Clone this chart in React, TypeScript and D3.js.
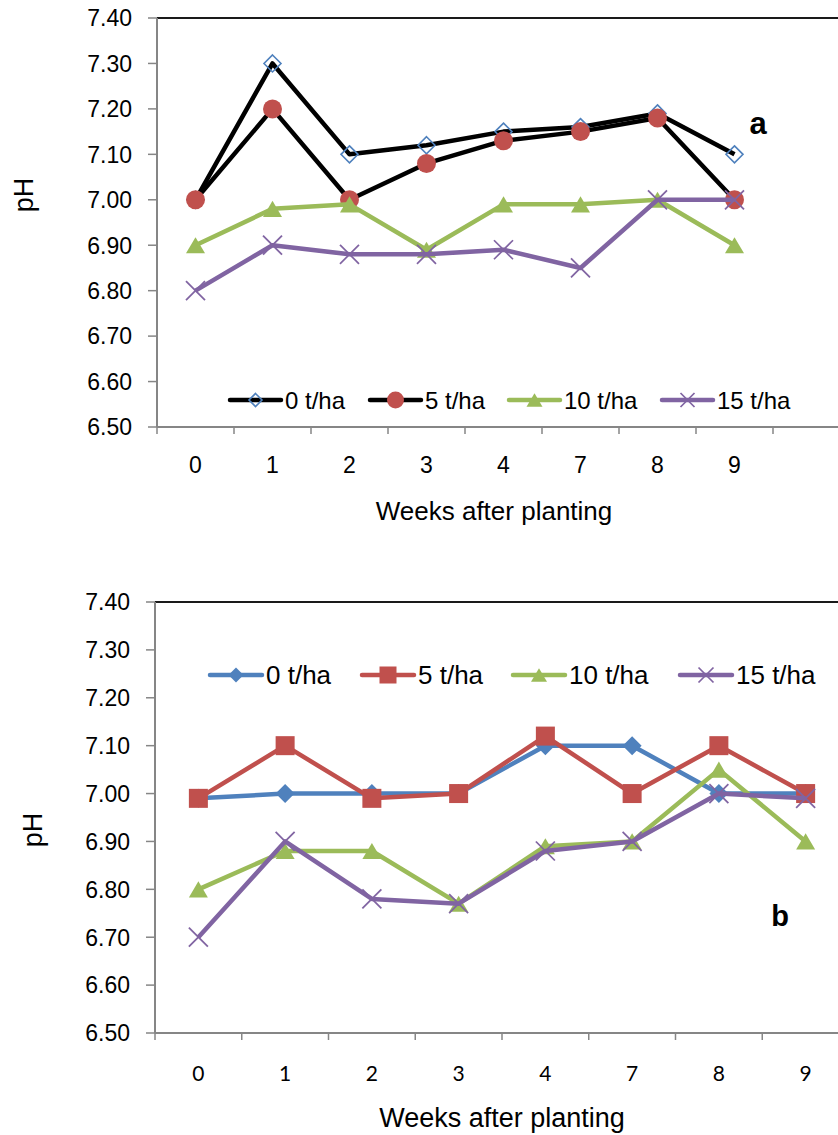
import React from 'react';
import * as d3 from 'd3';

// --- data ---
const weeks = ['0', '1', '2', '3', '4', '7', '8', '9'];
const seriesNames = ['0 t/ha', '5 t/ha', '10 t/ha', '15 t/ha'];
const yTicks = [6.5, 6.6, 6.7, 6.8, 6.9, 7.0, 7.1, 7.2, 7.3, 7.4];

// panel a
const phA0 = [7.0, 7.3, 7.1, 7.12, 7.15, 7.16, 7.19, 7.1];
const phA5 = [7.0, 7.2, 7.0, 7.08, 7.13, 7.15, 7.18, 7.0];
const phA10 = [6.9, 6.98, 6.99, 6.89, 6.99, 6.99, 7.0, 6.9];
const phA15 = [6.8, 6.9, 6.88, 6.88, 6.89, 6.85, 7.0, 7.0];

// panel b
const phB0 = [6.99, 7.0, 7.0, 7.0, 7.1, 7.1, 7.0, 7.0];
const phB5 = [6.99, 7.1, 6.99, 7.0, 7.12, 7.0, 7.1, 7.0];
const phB10 = [6.8, 6.88, 6.88, 6.77, 6.89, 6.9, 7.05, 6.9];
const phB15 = [6.7, 6.9, 6.78, 6.77, 6.88, 6.9, 7.0, 6.99];

const BLUE = '#4F81BD';
const RED = '#C0504D';
const GREEN = '#9BBB59';
const PURPLE = '#8064A2';
const AXIS = '#868686';
const ARIAL = '"Liberation Sans", Arial, sans-serif';
const CALIBRI = 'Lato, "Open Sans", sans-serif';

type Kind = 'hollowDiamond' | 'diamond' | 'circle' | 'square' | 'triangle' | 'cross';

// one marker, s = overall width
function Marker({ kind, x, y, s, color }: { kind: Kind; x: number; y: number; s: number; color: string }) {
  const r = s / 2;
  if (kind === 'circle') return <circle cx={x} cy={y} r={r} fill={color} />;
  if (kind === 'square') return <rect x={x - r} y={y - r} width={s} height={s} fill={color} />;
  if (kind === 'diamond' || kind === 'hollowDiamond') {
    const d = `M${x},${y - r}L${x + r},${y}L${x},${y + r}L${x - r},${y}Z`;
    return kind === 'diamond'
      ? <path d={d} fill={color} />
      : <path d={d} fill="none" stroke={color} strokeWidth={1.6} />;
  }
  if (kind === 'triangle') {
    const h = s * 0.85;
    return <path d={`M${x},${y - h / 2}L${x + r},${y + h / 2}L${x - r},${y + h / 2}Z`} fill={color} />;
  }
  return (
    <g stroke={color} strokeWidth={1.7}>
      <line x1={x - r} y1={y - r} x2={x + r} y2={y + r} />
      <line x1={x - r} y1={y + r} x2={x + r} y2={y - r} />
    </g>
  );
}

type SeriesStyle = { line: string; marker: Kind; color: string };

type PanelProps = {
  values: number[][];
  styles: SeriesStyle[];
  x0: number; x1: number; axisEnd: number;
  yTop: number; yBottom: number;
  tickLabelRight: number;
  xLabelFont: string; xLabelSize: number; xLabelGap: number;
  titleX: number; titleY: number; titleSize: number;
  phX: number; phY: number;
  legendY: number; legendStarts: number[]; legendLine: number; legendSize: number; legendMarker: number[];
  tag: string; tagX: number; tagY: number; tagSize: number;
};

function Panel(p: PanelProps) {
  const x = d3.scaleBand<string>().domain(weeks).range([p.x0, p.x1]);
  const y = d3.scaleLinear().domain([6.5, 7.4]).range([p.yBottom, p.yTop]);
  const cx = (w: string) => (x(w) as number) + x.bandwidth() / 2;
  const line = d3.line<number>().x((_, i) => cx(weeks[i])).y(v => y(v));
  const bounds = weeks.map(w => x(w) as number).concat([p.x1]);

  return (
    <g>
      {/* top border */}
      <line x1={p.x0} x2={p.axisEnd} y1={y(7.4)} y2={y(7.4)} stroke="#1a1a1a" strokeWidth={2} />
      {/* y axis */}
      <line x1={p.x0} x2={p.x0} y1={y(7.4)} y2={y(6.5)} stroke={AXIS} strokeWidth={2} />
      {yTicks.map(t => (
        <g key={t}>
          <line x1={p.x0 - 9} x2={p.x0} y1={y(t)} y2={y(t)} stroke={AXIS} strokeWidth={1.5} />
          <text x={p.tickLabelRight} y={y(t)} dy="0.36em" textAnchor="end" fontFamily={ARIAL} fontSize={23} fill="#000">
            {t.toFixed(2)}
          </text>
        </g>
      ))}
      {/* x axis */}
      <line x1={p.x0} x2={p.axisEnd} y1={y(6.5)} y2={y(6.5)} stroke={AXIS} strokeWidth={2} />
      {bounds.map((b, i) => (
        <line key={i} x1={b} x2={b} y1={y(6.5)} y2={y(6.5) + 7} stroke={AXIS} strokeWidth={1.5} />
      ))}
      {weeks.map(w => (
        <text key={w} x={cx(w)} y={y(6.5) + p.xLabelGap} dy="0.36em" textAnchor="middle"
          fontFamily={p.xLabelFont} fontSize={p.xLabelSize} fill="#000">{w}</text>
      ))}
      <text x={p.titleX} y={p.titleY} textAnchor="middle" fontFamily={ARIAL} fontSize={p.titleSize} fill="#000">
        Weeks after planting
      </text>
      <text transform={`translate(${p.phX},${p.phY}) rotate(-90)`} textAnchor="middle" fontFamily={ARIAL} fontSize={27} fill="#000">
        pH
      </text>

      {/* series */}
      {p.values.map((vals, si) => {
        const st = p.styles[si];
        return (
          <g key={si}>
            <path d={line(vals) || ''} fill="none" stroke={st.line} strokeWidth={4.5} strokeLinejoin="round" />
            {vals.map((v, i) => (
              <Marker key={i} kind={st.marker} x={cx(weeks[i])} y={y(v)} s={st.marker === 'hollowDiamond' ? 17 : 19} color={st.color} />
            ))}
          </g>
        );
      })}

      {/* legend */}
      {seriesNames.map((name, si) => {
        const st = p.styles[si];
        const lx = p.legendStarts[si];
        return (
          <g key={name}>
            <line x1={lx} x2={lx + p.legendLine} y1={p.legendY} y2={p.legendY} stroke={st.line} strokeWidth={4.5} strokeLinecap="round" />
            <Marker kind={st.marker} x={lx + p.legendLine / 2} y={p.legendY} s={p.legendMarker[si]} color={st.color} />
            <text x={lx + p.legendLine + 4} y={p.legendY} dy="0.36em" fontFamily={ARIAL} fontSize={p.legendSize} fill="#000">{name}</text>
          </g>
        );
      })}

      <text x={p.tagX} y={p.tagY} textAnchor="middle" fontFamily={ARIAL} fontWeight="bold" fontSize={p.tagSize} fill="#000">{p.tag}</text>
    </g>
  );
}

export default function App() {
  const stylesA: SeriesStyle[] = [
    { line: '#000', marker: 'hollowDiamond', color: BLUE },
    { line: '#000', marker: 'circle', color: RED },
    { line: GREEN, marker: 'triangle', color: GREEN },
    { line: PURPLE, marker: 'cross', color: PURPLE },
  ];
  const stylesB: SeriesStyle[] = [
    { line: BLUE, marker: 'diamond', color: BLUE },
    { line: RED, marker: 'square', color: RED },
    { line: GREEN, marker: 'triangle', color: GREEN },
    { line: PURPLE, marker: 'cross', color: PURPLE },
  ];

  return (
    <svg width={838} height={1135} style={{ position: 'absolute', left: 0, top: 0, background: '#fff' }}>
      <rect width={838} height={1135} fill="#fff" />
      <Panel
        values={[phA0, phA5, phA10, phA15]} styles={stylesA}
        x0={157} x1={773} axisEnd={850} yTop={18} yBottom={427} tickLabelRight={132}
        xLabelFont={ARIAL} xLabelSize={23} xLabelGap={38}
        titleX={494} titleY={520} titleSize={26} phX={33} phY={195}
        legendY={400} legendStarts={[230, 370, 509, 662]} legendLine={51} legendSize={24} legendMarker={[13, 17, 16, 14]}
        tag="a" tagX={758} tagY={134} tagSize={31}
      />
      <Panel
        values={[phB0, phB5, phB10, phB15]} styles={stylesB}
        x0={155} x1={849} axisEnd={850} yTop={602} yBottom={1033} tickLabelRight={130}
        xLabelFont={CALIBRI} xLabelSize={21} xLabelGap={40}
        titleX={502} titleY={1127} titleSize={27} phX={42} phY={830}
        legendY={675} legendStarts={[210, 362, 513, 680]} legendLine={52} legendSize={26} legendMarker={[15, 17, 16, 15]}
        tag="b" tagX={780} tagY={926} tagSize={29}
      />
    </svg>
  );
}
